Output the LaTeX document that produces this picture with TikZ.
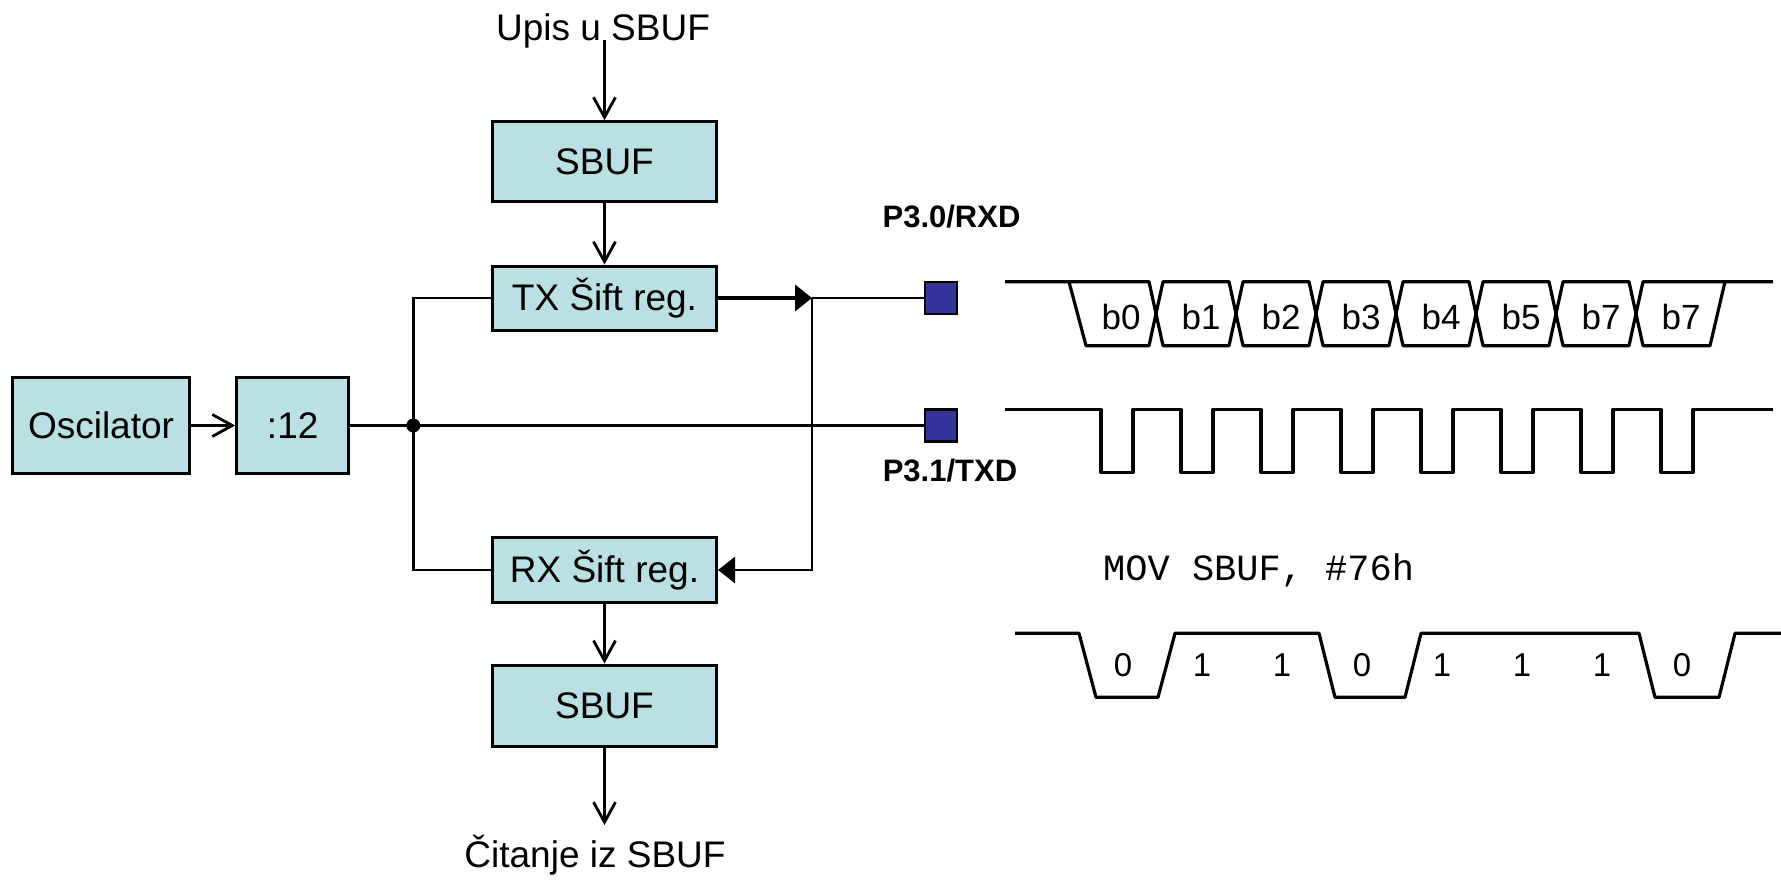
\documentclass[tikz,border=0pt]{standalone}
\usepackage{fontspec}
\setmainfont{Liberation Sans}
\newfontfamily\monof{Liberation Mono}
\usetikzlibrary{arrows.meta}
\definecolor{boxcol}{RGB}{187,224,227}
\definecolor{pincol}{RGB}{51,51,153}
\begin{document}
\begin{tikzpicture}[x=1pt,y=-1pt,
  blk/.style={draw=black, line width=3pt, fill=boxcol, inner sep=0pt, font=\fontsize{37}{44}\selectfont},
  txt/.style={inner sep=0pt, font=\fontsize{37}{44}\selectfont},
  conn/.style={line width=2.8pt},
  barb/.style={-{Straight Barb[length=20pt,width=22pt]}},
  tri/.style={-{Triangle[length=17pt,width=26pt]}},
  pin/.style={draw=black, line width=2.5pt, fill=pincol, minimum size=32pt, inner sep=0pt},
  plab/.style={inner sep=0pt, font=\bfseries\fontsize{31}{37}\selectfont},
  wave/.style={line width=3.2pt, line join=round},
  blab/.style={inner sep=0pt, font=\fontsize{35}{42}\selectfont},
  dlab/.style={inner sep=0pt, font=\fontsize{33}{40}\selectfont}
]
\useasboundingbox (0,0) rectangle (1781,879);

% blocks
\node[blk, minimum width=224pt, minimum height=80pt] (sb1) at (604.5,161.7) {SBUF};
\node[blk, minimum width=224pt, minimum height=64pt] (tx) at (604.5,298) {TX Šift reg.};
\node[blk, minimum width=177pt, minimum height=96pt] (osc) at (101,425.5) {Oscilator};
\node[blk, minimum width=112pt, minimum height=96pt] (div) at (292.7,425.5) {:12};
\node[blk, minimum width=224pt, minimum height=65pt] (rx) at (604.5,570) {RX Šift reg.};
\node[blk, minimum width=224pt, minimum height=81pt] (sb2) at (604.5,705.5) {SBUF};

\node[txt, anchor=base] (upis) at (603,40) {Upis u SBUF};
\node[txt, anchor=base] (cit) at (595,867) {Čitanje iz SBUF};

\coordinate (j) at (413.3,425.5);
\coordinate (jr) at (812,298);
\coordinate (ce) at (604.5,825);

\node[pin] (p30) at (941,298) {};
\node[pin] (p31) at (941,425.5) {};
\node[plab] (l30) at (951.5,216.7) {P3.0/RXD};
\node[plab] (l31) at (950,471) {P3.1/TXD};

% connectors
\draw[conn,barb] (upis.base -| sb1.north) -- (sb1.north);
\draw[conn,barb] (sb1) -- (tx);
\draw[conn,barb] (osc) -- (div);
\draw[conn] (div) -- (j);
\draw[conn] (tx.west) -| (j);
\draw[conn] (rx.west) -| (j);
\draw[conn] (j) -- (p31);
\fill (j) circle[radius=7pt];
\draw[line width=4pt,tri] (tx) -- (jr);
\draw[conn] (jr) -- (p30);
\draw[conn,tri] (jr) |- (rx);
\draw[conn,barb] (rx) -- (sb2);
\draw[conn,barb] (sb2) -- (ce);

% RXD waveform
\def\T{281.7}\def\B{345.7}
\draw[wave] (1005,\T)--(1149,\T)--(1163,\B)--(1229,\B)--(1243,\T)--(1309,\T)--(1323,\B)--(1389,\B)--(1403,\T)--(1469,\T)--(1483,\B)--(1549,\B)--(1563,\T)--(1629,\T)--(1643,\B)--(1710,\B)--(1725,\T)--(1773,\T);
\draw[wave] (1069,\T)--(1086,\B)--(1149,\B)--(1163,\T)--(1229,\T)--(1243,\B)--(1309,\B)--(1323,\T)--(1389,\T)--(1403,\B)--(1469,\B)--(1483,\T)--(1549,\T)--(1563,\B)--(1629,\B)--(1643,\T)--(1725,\T);
\foreach \x/\t [count=\i] in {1121/b0,1201/b1,1281/b2,1361/b3,1441/b4,1521/b5,1601/b7,1681/b7}
  \node[blab] (rb\i) at (\x,316.7) {\t};

% TXD clock
\def\H{409.3}\def\L{472.7}
\draw[wave] (1005,\H) \foreach \k in {0,...,7} { -- (1101+80*\k,\H) -- (1101+80*\k,\L) -- (1133+80*\k,\L) -- (1133+80*\k,\H) } -- (1773,\H);

% MOV text
\node[inner sep=0pt, anchor=base west, font=\monof\fontsize{37}{44}\selectfont] (mov) at (1103,580) {MOV SBUF, \#76h};

% data waveform
\def\DH{633.3}\def\DL{697.3}
\draw[wave] (1015,\DH)--(1079,\DH)--(1096,\DL)--(1158,\DL)--(1175,\DH)--(1319,\DH)--(1335,\DL)--(1405,\DL)--(1421,\DH)--(1639,\DH)--(1655,\DL)--(1719,\DL)--(1735,\DH)--(1781,\DH);
\foreach \x/\t [count=\i] in {1123/0,1202/1,1282/1,1362/0,1442/1,1522/1,1602/1,1682/0}
  \node[dlab] (d\i) at (\x,665) {\t};
\end{tikzpicture}
\end{document}
